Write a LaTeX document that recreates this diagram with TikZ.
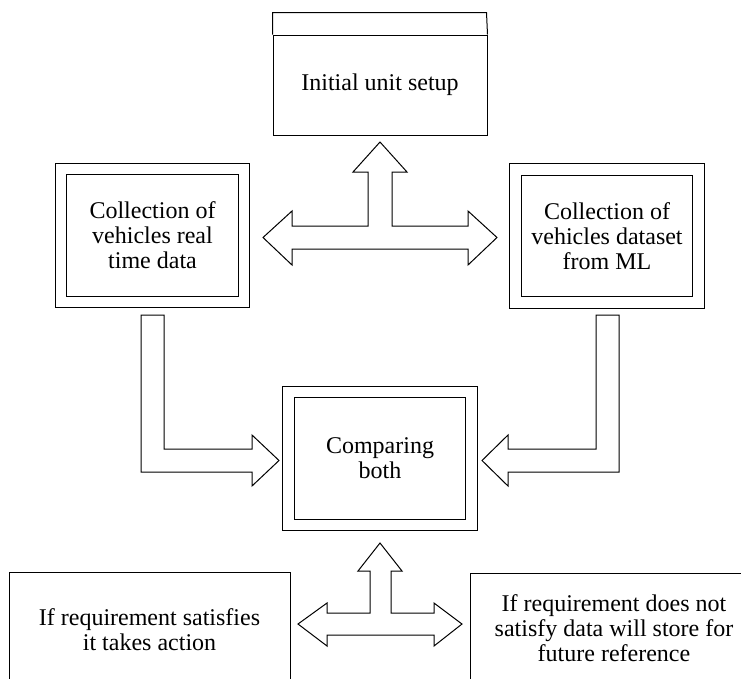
\documentclass[tikz,border=0pt]{standalone}
\usepackage{fontspec}
\setmainfont{Liberation Serif}
\begin{document}
\begin{tikzpicture}[x=1pt,y=-1pt,line width=1pt,
  txt/.style={font=\fontsize{24}{25}\selectfont, align=center, inner sep=0pt},
  dbox/.style={draw, double, double distance=10.5pt, line width=1pt, inner sep=0pt,
    font=\fontsize{24}{25}\selectfont, align=center},
  blockarrow/.style={draw, line width=1pt, fill=white, line join=miter}]
\useasboundingbox (0,0) rectangle (741,678);

% top box with header strip
\node[draw, minimum width=214pt, minimum height=100pt, inner sep=0pt,
  font=\fontsize{24}{25}\selectfont] (top) at (380,85) {Initial unit setup};
\draw (top.north west) -- ++(0,-22) -- ++(214,0) -- (top.north east);

% double boxes
\node[dbox, minimum width=183pt, minimum height=133pt] (left) at (152.5,235.5)
  {Collection of\\vehicles real\\time data};
\node[dbox, minimum width=183pt, minimum height=133pt] (right) at (607,236)
  {Collection of\\vehicles dataset\\from ML};
\node[dbox, minimum width=183pt, minimum height=133pt] (cmp) at (380,458.5)
  {Comparing\\both};

% bottom open boxes
\draw (9,680) -- (9,572) -- (290,572) -- (290,680);
\draw (470,680) -- (470,573) -- (745,573);
\node[txt] (yes) at (149.5,630) {If requirement satisfies\\it takes action};
\node[txt] (no) at (614,628) {If requirement does not\\satisfy data will store for\\future reference};

% top T block arrow
\draw[blockarrow] (380,142) -- (407,172) -- (392,172) -- (392,226) -- (468,226)
  -- (468,211) -- (497,237.5) -- (468,265) -- (468,249) -- (292,249) -- (292,265)
  -- (263,237.5) -- (292,211) -- (292,226) -- (368,226) -- (368,172) -- (353,172) -- cycle;

% left L block arrow
\draw[blockarrow] (141,315) -- (164,315) -- (164,449) -- (252,449) -- (252,435)
  -- (279,460.5) -- (252,486) -- (252,472) -- (141,472) -- cycle;

% right L block arrow
\draw[blockarrow] (596,315) -- (619,315) -- (619,472) -- (508,472) -- (508,486)
  -- (482,460.5) -- (508,435) -- (508,449) -- (596,449) -- cycle;

% bottom T block arrow
\draw[blockarrow] (380,543) -- (402,571) -- (391,571) -- (391,613) -- (434,613)
  -- (434,603) -- (462,624) -- (434,646) -- (434,635) -- (327,635) -- (327,646)
  -- (298,624) -- (327,603) -- (327,613) -- (370,613) -- (370,571) -- (358,571) -- cycle;
\end{tikzpicture}
\end{document}
